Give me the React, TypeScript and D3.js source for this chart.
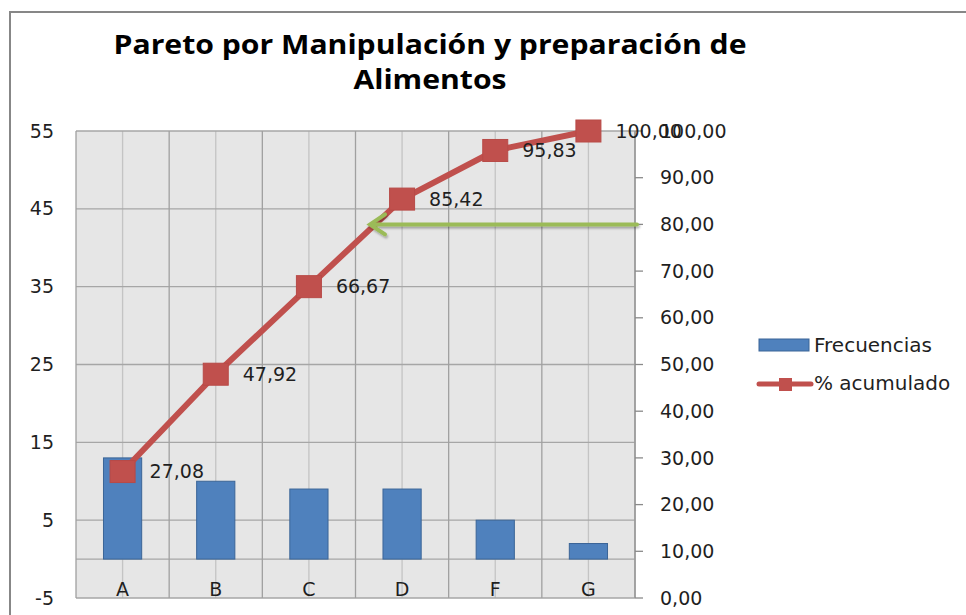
import React from "react";
import * as d3 from "d3";

const categories = ["A", "B", "C", "D", "F", "G"];
const frequencies = [13, 10, 9, 9, 5, 2];
const cumulativePct = [27.08, 47.92, 66.67, 85.42, 95.83, 100.0];
const leftTicks = [-5, 5, 15, 25, 35, 45, 55];
const rightTicks = [0, 10, 20, 30, 40, 50, 60, 70, 80, 90, 100];
const titleLines = ["Pareto por Manipulación y preparación de", "Alimentos"];
const legendLabels = ["Frecuencias", "% acumulado"];
const thresholdPct = 80;

const W = 966;
const H = 615;
const plot = { left: 76, right: 635, top: 131, bottom: 598 };
const FONT = "'DejaVu Sans', sans-serif";
const TXT = "#1f1f1f";

export default function App() {
  const x = d3.scaleBand<string>().domain(categories).range([plot.left, plot.right]).padding(0);
  const yL = d3.scaleLinear().domain([-5, 55]).range([plot.bottom, plot.top]);
  const yR = d3.scaleLinear().domain([0, 100]).range([plot.bottom, plot.top]);
  const fmt = (v: number) => d3.format(".2f")(v).replace(".", ",");
  const bw = x.bandwidth();
  const barW = bw * 0.41;
  const cx = (c: string) => (x(c) as number) + bw / 2;

  const lineGen = d3
    .line<number>()
    .x((_, i) => cx(categories[i]))
    .y((d) => yR(d));

  const gridH = d3.range(-5, 56, 10).concat([0]);
  const boundaries = categories.map((c) => x(c) as number).concat([plot.right]);

  const arrowY = yR(thresholdPct);
  const tipX = 370;

  return (
    <svg
      width={W}
      height={H}
      style={{ position: "absolute", left: 0, top: 0, background: "#fff" }}
      fontFamily={FONT}
    >
      <defs>
        <filter id="sh" x="-10%" y="-100%" width="120%" height="300%">
          <feDropShadow dx="1" dy="2" stdDeviation="1.2" floodColor="#000" floodOpacity="0.3" />
        </filter>
      </defs>
      <path d={`M10,${H + 5} L10,12 L${W + 5},12`} fill="none" stroke="#878787" strokeWidth={2} />

      {titleLines.map((t, i) => (
        <text
          key={t}
          transform={`translate(430,${54 + i * 35}) scale(1.16,1)`}
          textAnchor="middle"
          fontFamily="'Open Sans', sans-serif"
          fontWeight={700}
          fontSize={26}
          fill="#000"
        >
          {t}
        </text>
      ))}

      <rect
        x={plot.left}
        y={plot.top}
        width={plot.right - plot.left}
        height={plot.bottom - plot.top}
        fill="#e6e6e6"
      />
      {categories.map((c) => (
        <line key={"vc" + c} x1={cx(c)} x2={cx(c)} y1={plot.top} y2={plot.bottom} stroke="#c4c4c4" strokeWidth={1.3} />
      ))}
      {gridH.map((v) => (
        <line key={"h" + v} x1={plot.left} x2={plot.right} y1={yL(v)} y2={yL(v)} stroke="#a6a6a6" strokeWidth={1.3} />
      ))}
      {boundaries.map((bx, i) => (
        <line key={"vb" + i} x1={bx} x2={bx} y1={plot.top} y2={plot.bottom} stroke="#a0a0a0" strokeWidth={1.3} />
      ))}

      {categories.map((c, i) => (
        <rect
          key={"b" + c}
          x={cx(c) - barW / 2}
          y={yL(frequencies[i])}
          width={barW}
          height={yL(0) - yL(frequencies[i])}
          fill="#4f81bd"
          stroke="#3b6597"
          strokeWidth={1}
        />
      ))}

      {categories.map((c) => (
        <text key={"cl" + c} x={cx(c)} y={596} textAnchor="middle" fontSize={19} fill={TXT}>
          {c}
        </text>
      ))}

      <line x1={plot.right} x2={plot.right} y1={plot.top} y2={plot.bottom} stroke="#9a9a9a" strokeWidth={1.5} />
      {rightTicks.map((v) => (
        <g key={"rt" + v}>
          <line x1={plot.right} x2={plot.right + 8} y1={yR(v)} y2={yR(v)} stroke="#8a8a8a" strokeWidth={1.3} />
          <text x={660} y={yR(v)} dy="0.35em" fontSize={19} fill={TXT}>
            {fmt(v)}
          </text>
        </g>
      ))}
      {leftTicks.map((v) => (
        <text key={"lt" + v} x={54} y={yL(v)} dy="0.35em" textAnchor="end" fontSize={19} fill={TXT}>
          {v}
        </text>
      ))}

      <path d={lineGen(cumulativePct) || ""} fill="none" stroke="#c0504d" strokeWidth={6} strokeLinejoin="round" />
      {cumulativePct.map((v, i) => (
        <rect
          key={"m" + i}
          x={cx(categories[i]) - 12.5}
          y={yR(v) - 11}
          width={25}
          height={22}
          fill="#c0504d"
          stroke="#b84a47"
          strokeWidth={1}
        />
      ))}

      <g filter="url(#sh)" stroke="#9bbb59" strokeWidth={4} fill="none" strokeLinecap="round">
        <line x1={plot.right + 2} x2={tipX + 2} y1={arrowY} y2={arrowY} />
        <path d={`M${tipX + 15},${arrowY - 10} L${tipX},${arrowY} L${tipX + 15},${arrowY + 10}`} strokeLinejoin="miter" />
      </g>

      {cumulativePct.map((v, i) => (
        <text key={"dl" + i} x={cx(categories[i]) + 27} y={yR(v)} dy="0.35em" fontSize={19} fill={TXT}>
          {fmt(v)}
        </text>
      ))}

      <rect x={759} y={339} width={50} height={12} fill="#4f81bd" stroke="#3b6597" strokeWidth={1} />
      <text x={814} y={345} dy="0.35em" fontSize={20} fill={TXT}>
        {legendLabels[0]}
      </text>
      <line x1={759} x2={811} y1={384} y2={384} stroke="#c0504d" strokeWidth={5} strokeLinecap="round" />
      <rect x={779} y={378} width={13} height={13} fill="#c0504d" />
      <text x={814} y={383} dy="0.35em" fontSize={20} fill={TXT}>
        {legendLabels[1]}
      </text>
    </svg>
  );
}
